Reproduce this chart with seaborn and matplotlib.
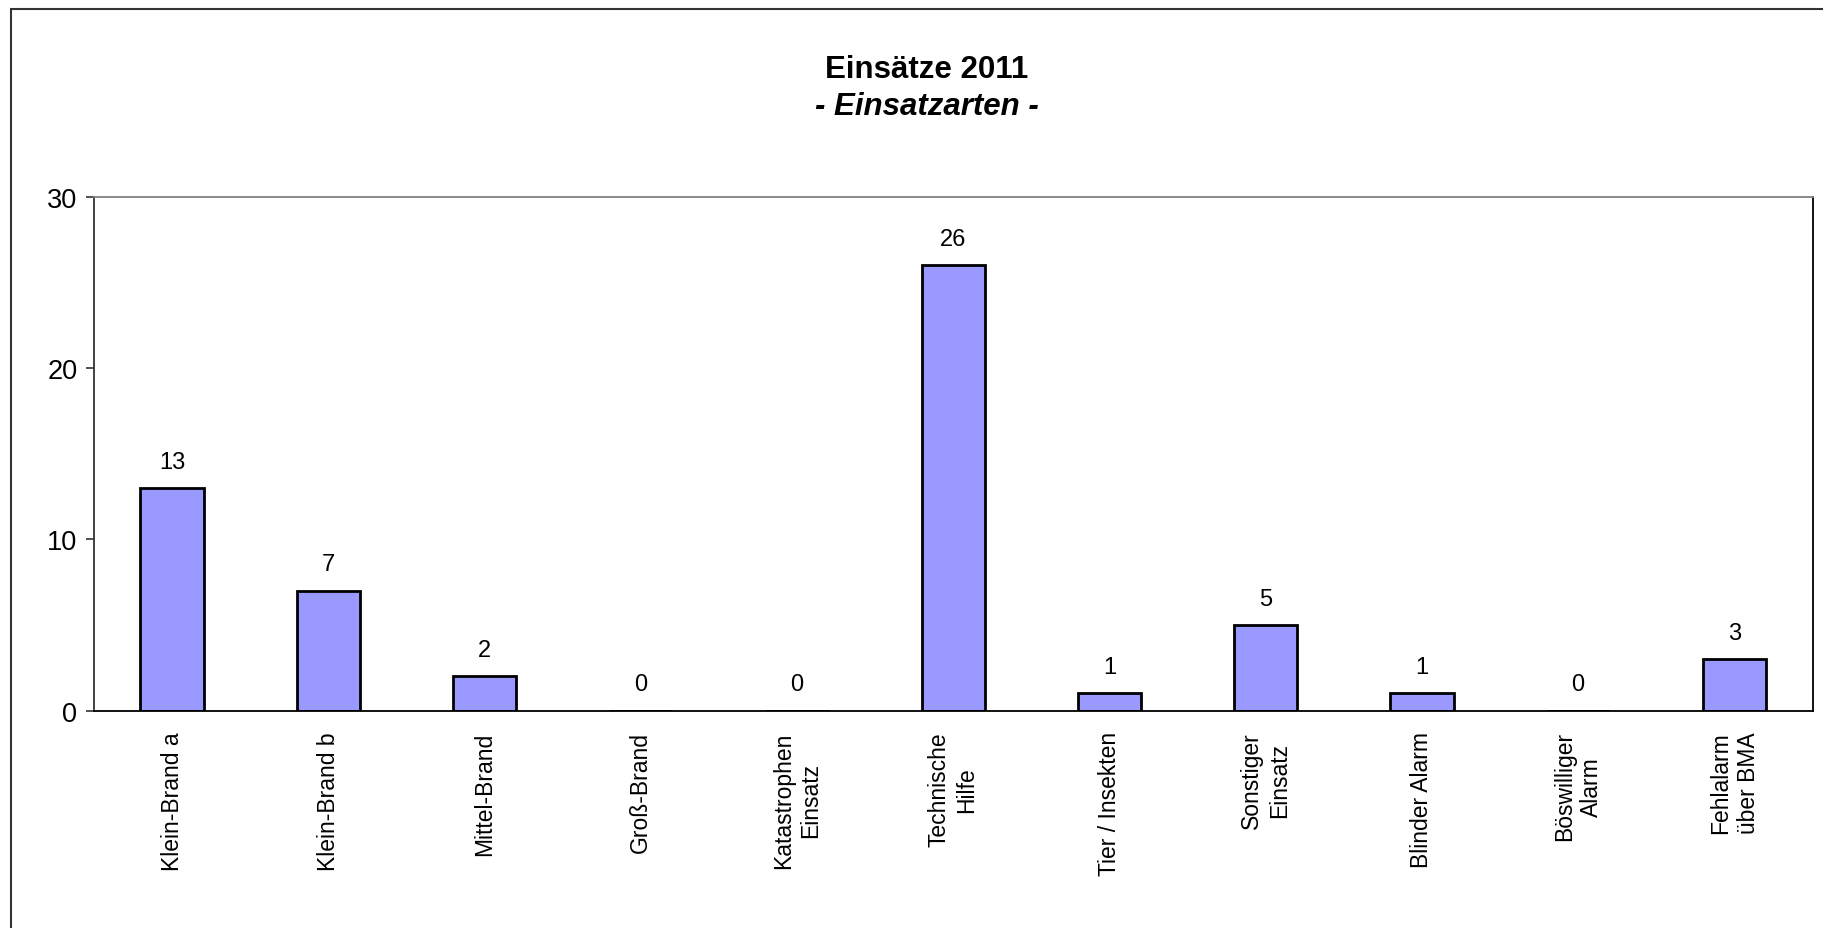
import matplotlib
matplotlib.use("Agg")
import matplotlib.pyplot as plt
import seaborn as sns
from matplotlib.patches import Rectangle

categories = ["Klein-Brand a", "Klein-Brand b", "Mittel-Brand", "Groß-Brand",
              "Katastrophen\nEinsatz", "Technische\nHilfe", "Tier / Insekten",
              "Sonstiger\nEinsatz", "Blinder Alarm", "Böswilliger\nAlarm",
              "Fehlalarm\nüber BMA"]
counts = [13, 7, 2, 0, 0, 26, 1, 5, 1, 0, 3]
yticks = [0, 10, 20, 30]

sns.set_style("white")
plt.rcParams['font.family'] = ['Liberation Sans', 'DejaVu Sans']
plt.rcParams['text.color'] = 'black'
plt.rcParams['xtick.color'] = 'black'
plt.rcParams['ytick.color'] = 'black'

fig = plt.figure(figsize=(18.23, 9.29), dpi=100)
ax = fig.add_axes([94 / 1823, 1 - 711.5 / 929, (1812.5 - 94) / 1823, (711.5 - 198) / 929])

sns.barplot(x=categories, y=counts, color="#9999FF", saturation=1,
            edgecolor="black", linewidth=2, width=0.405, ax=ax)

# value labels
ax.bar_label(ax.containers[0], labels=[str(v) for v in counts],
             padding=11, fontsize=17, color="black")

ax.set_xlim(-0.5, len(categories) - 0.5)
ax.set_ylim(0, 30)
ax.set_yticks(yticks)
ax.tick_params(axis="y", left=True, length=6, width=1.2, color="#333333",
               pad=6, labelsize=19.5, labelcolor="black")
ax.tick_params(axis="x", bottom=False, length=0, pad=15, labelsize=16.5,
               labelcolor="black")
plt.setp(ax.get_xticklabels(), rotation=90, va="top", ha="center",
         multialignment="center", linespacing=1.25)
ax.set_xlabel("")
ax.set_ylabel("")

for side in ["left", "bottom", "right", "top"]:
    ax.spines[side].set_visible(True)
    ax.spines[side].set_linewidth(1.3)
ax.spines["left"].set_color("#333333")
ax.spines["bottom"].set_color("black")
ax.spines["right"].set_color("black")
ax.spines["top"].set_color("#808080")

# titles
fig.text(927 / 1823, 1 - 70 / 929, "Einsätze 2011", ha="center", va="center",
         fontsize=22.5, fontweight="bold")
fig.text(927 / 1823, 1 - 107 / 929, "- Einsatzarten -", ha="center", va="center",
         fontsize=22.5, fontweight="bold", fontstyle="italic")

# outer chart frame
fig.patches.append(Rectangle((10.5 / 1823, -0.1), 1.2, 1.1 - 10 / 929,
                             transform=fig.transFigure, fill=False,
                             edgecolor="#333333", linewidth=1.5))

fig.savefig("out.png", dpi=100)
